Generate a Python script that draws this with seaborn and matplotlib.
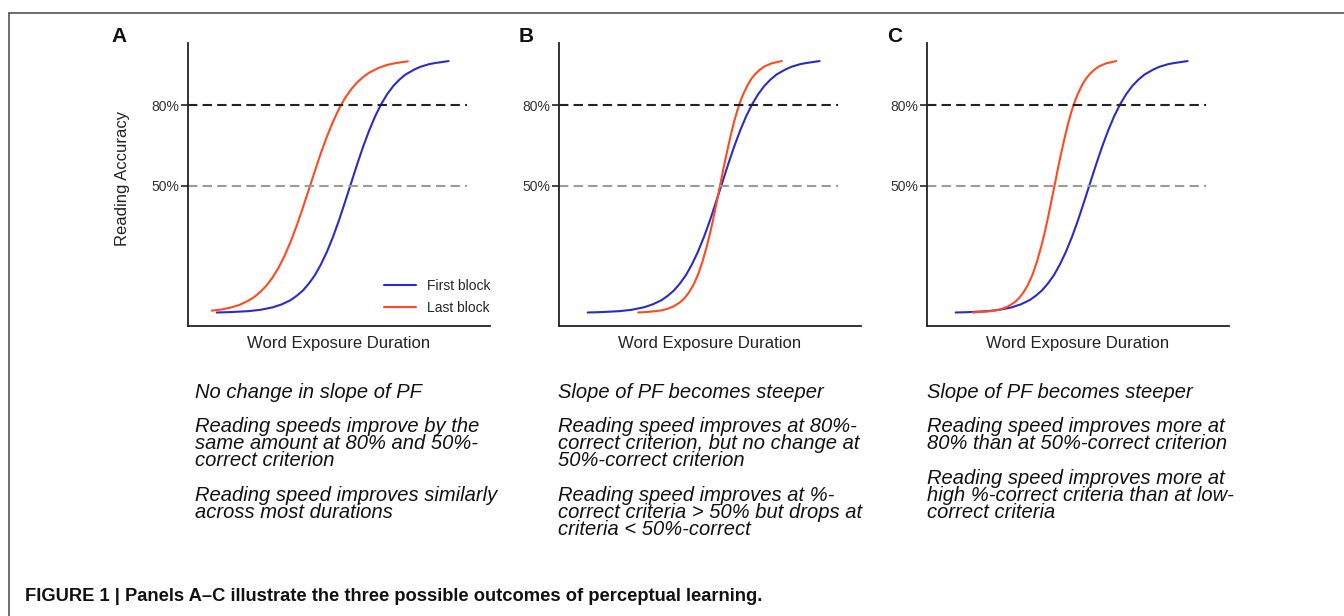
import numpy as np
import pandas as pd
import matplotlib.pyplot as plt
import seaborn as sns
from matplotlib.lines import Line2D

# ---- data (x: exposure duration, arbitrary 0-100; y: accuracy %) ----
# first block: same curve in all three panels
blue_x = [9.5, 14, 20, 24, 28, 31, 34, 36, 38, 40, 42, 44, 46, 48, 50, 52, 53.7,
          56, 58, 60, 62, 64, 66, 68, 70, 72, 75, 77, 80, 82, 86.3]
blue_y = [3.1, 3.25, 3.6, 4.1, 5.0, 6.1, 7.7, 9.3, 11.2, 13.8, 16.9, 20.9, 25.6, 31.1, 37.3, 44.1, 50,
          58.0, 64.6, 70.6, 75.9, 80.4, 84.1, 87.1, 89.4, 91.3, 93.2, 94.2, 95.2, 95.6, 96.3]

# last block, panel A (shifted left, same slope)
red_a_x = [7.9, 11, 14, 17, 20, 22, 24, 26, 28, 30, 32, 34, 36, 38, 40.4,
           42, 44, 46, 48, 50, 52, 54, 56, 58, 60, 63, 66, 69, 72.8]
red_a_y = [3.8, 4.2, 4.9, 5.9, 7.5, 8.9, 10.8, 13.1, 16.1, 19.7, 24.2, 29.4, 35.3, 41.8, 50,
           55.5, 62.2, 68.3, 73.8, 78.6, 82.6, 85.8, 88.4, 90.4, 92.0, 93.7, 94.9, 95.6, 96.2]

# last block, panels B and C (steeper)
red_bc_y = [3.1, 3.3, 3.6, 3.9, 4.5, 5.4, 6.8, 8.3, 10.5, 13.3, 17.0, 21.9, 27.9, 32.4, 37.4, 42.8, 50,
            56.7, 62.0, 69.4, 73.9, 77.8, 81.2, 84.0, 87.5, 89.7, 91.5, 93.1, 94.3, 95.5, 96.3]
red_b_x = [26.2, 29, 32, 34, 36, 38, 40, 41.5, 43, 44.5, 46, 47.5, 49, 50, 51, 52, 53.3,
           54.5, 55.5, 57, 58, 59, 60, 61, 62.5, 63.7, 65, 66.5, 68, 70.5, 73.8]
red_c_x = [15.1, 17.9, 20.9, 22.9, 24.9, 26.9, 28.9, 30.4, 31.9, 33.4, 34.9, 36.4, 37.9, 38.9, 39.9, 40.9, 42.2,
           43.4, 44.4, 45.9, 46.9, 47.9, 48.9, 49.9, 51.4, 52.6, 53.9, 55.4, 56.9, 59.4, 62.7]

criteria = [80, 50]
criteria_labels = ["80%", "50%"]
panel_letters = ["A", "B", "C"]
series_names = ["First block", "Last block"]

panel_texts = [
    ["No change in slope of PF",
     "Reading speeds improve by the\nsame amount at 80% and 50%-\ncorrect criterion",
     "Reading speed improves similarly\nacross most durations"],
    ["Slope of PF becomes steeper",
     "Reading speed improves at 80%-\ncorrect criterion, but no change at\n50%-correct criterion",
     "Reading speed improves at %-\ncorrect criteria > 50% but drops at\ncriteria < 50%-correct"],
    ["Slope of PF becomes steeper",
     "Reading speed improves more at\n80% than at 50%-correct criterion",
     "Reading speed improves more at\nhigh %-correct criteria than at low-\ncorrect criteria"],
]
caption = ("FIGURE 1 | Panels A\u2013C illustrate the three possible outcomes "
           "of perceptual learning.")

# ---- style ----
sns.set_style("white")
plt.rcParams['font.family'] = ['Liberation Sans', 'DejaVu Sans']

BLUE = "#2b2bc9"
RED = "#ff4a1f"

W, H = 1344, 616
fig = plt.figure(figsize=(W / 100, H / 100), dpi=100)

ax_left = [188, 559, 927]
ax_w, ax_top, ax_bot = 302, 43, 326

red_sets = [(red_a_x, red_a_y), (red_b_x, red_bc_y), (red_c_x, red_bc_y)]

for i in range(3):
    ax = fig.add_axes([ax_left[i] / W, 1 - ax_bot / H, ax_w / W, (ax_bot - ax_top) / H])

    df = pd.concat([
        pd.DataFrame({"x": blue_x, "y": blue_y, "block": series_names[0]}),
        pd.DataFrame({"x": red_sets[i][0], "y": red_sets[i][1], "block": series_names[1]}),
    ])
    sns.lineplot(data=df, x="x", y="y", hue="block", sort=False, estimator=None,
                 palette=[BLUE, RED], linewidth=1.5, ax=ax, legend=(i == 0))

    # criterion lines
    ax.plot([0, 92.5], [criteria[0]] * 2, color="#222222", lw=1.5,
            dashes=(4.5, 2.5))
    ax.plot([0, 92.5], [criteria[1]] * 2, color="#9a9a9a", lw=1.5,
            dashes=(4.5, 2.5))

    ax.set_xlim(0, 100)
    ax.set_ylim(-1.9, 103)
    ax.set_xticks([])
    ax.set_yticks(criteria)
    ax.set_yticklabels(criteria_labels, fontsize=10, color="#333333")
    ax.tick_params(axis="y", length=5, width=1.2, color="#222222", pad=1,
                   left=True, direction="out")
    for s in ["top", "right"]:
        ax.spines[s].set_visible(False)
    for s in ["left", "bottom"]:
        ax.spines[s].set_color("#222222")
        ax.spines[s].set_linewidth(1.3)
    ax.set_xlabel("Word Exposure Duration", fontsize=12, labelpad=7, color="#222222")
    if i == 0:
        ax.set_ylabel("Reading Accuracy", fontsize=12, color="#222222")
        ax.yaxis.set_label_coords(-0.192, 0.52)
        leg = ax.legend(loc="lower right", frameon=False, fontsize=10,
                        handlelength=2.3, handletextpad=0.8, labelspacing=0.62,
                        bbox_to_anchor=(1.02, 0.018), borderaxespad=0)
        for line in leg.get_lines():
            line.set_linewidth(1.5)
    else:
        ax.set_ylabel("")

# panel letters
for x, letter in zip([119, 526, 895], panel_letters):
    fig.text(x / W, 1 - 37 / H, letter, fontsize=15, fontweight="bold",
             ha="center", va="center", color="#111111")

# description text under each panel, one baseline per line (tight leading)
text_x = [195, 558, 927]
para_y = [[398, 432, 501], [398, 432, 501], [398, 432, 484]]
line_step = 17
for i in range(3):
    for j, para in enumerate(panel_texts[i]):
        for k, line in enumerate(para.split("\n")):
            fig.text(text_x[i] / W, 1 - (para_y[i][j] + k * line_step) / H, line,
                     fontsize=14.5, style="italic", ha="left", va="baseline",
                     color="#111111")

fig.text(25 / W, 1 - 601 / H, caption, fontsize=13.2, fontweight="bold",
         ha="left", va="baseline", color="#111111")

# outer frame (top and left rules)
fig.add_artist(Line2D([9 / W, 1], [1 - 13 / H] * 2, color="#555555", lw=1.2))
fig.add_artist(Line2D([9 / W] * 2, [0, 1 - 13 / H], color="#555555", lw=1.2))

fig.savefig("out.png", dpi=100)
